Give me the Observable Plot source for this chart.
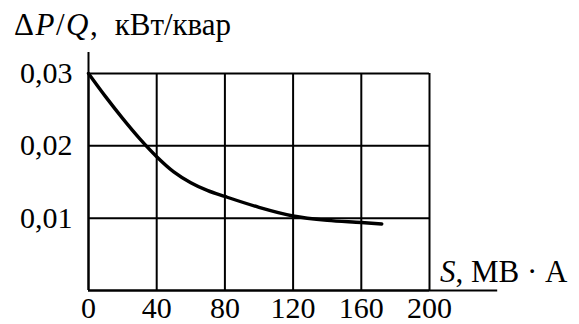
<!DOCTYPE html>
<html>
<head>
<meta charset="utf-8">
<script src="https://cdn.jsdelivr.net/npm/d3@7"></script>
<script src="https://cdn.jsdelivr.net/npm/@observablehq/plot@0.6"></script>
<style>
  html, body { margin: 0; padding: 0; background: #fff; }
  #wrap { position: relative; width: 579px; height: 324px; font-family: "Liberation Serif", "Times New Roman", serif; color: #000; }
  #title { position: absolute; left: 14px; top: 9px; font-size: 31px; white-space: nowrap; line-height: 1; }
  #title .sym { letter-spacing: 1.5px; }
  #xlabel { position: absolute; left: 440px; top: 256px; font-size: 31px; white-space: nowrap; line-height: 1; }
  #chart { position: absolute; left: 0; top: 0; }
</style>
</head>
<body>
<div id="wrap">
  <div id="chart"></div>
  <div id="title"><span class="sym">&Delta;<i>P</i>/<i>Q</i>,</span>&nbsp; кВт/квар</div>
  <div id="xlabel"><i>S</i>, МВ · А</div>
</div>
<script>
// Curve samples
const sValues = [0, 10, 20, 30, 40, 50, 60, 70, 80, 100, 120, 140, 160, 172];
const lossValues = [0.0300, 0.0268, 0.0238, 0.0210, 0.0185, 0.0164, 0.0149, 0.0138, 0.0130, 0.0115, 0.0103, 0.0097, 0.0094, 0.0092];
const xTicks = [0, 40, 80, 120, 160, 200];
const yTicks = [0.01, 0.02, 0.03];
const yGrid = [0, 0.01, 0.02, 0.03];
const xDomain = [0, 200];
const yDomain = [0, 0.03];
const yAxisTop = 0.0329;
const xAxisEnd = 240;

const data = sValues.map((s, i) => ({s, v: lossValues[i]}));

const chart = Plot.plot({
  width: 579,
  height: 324,
  marginLeft: 88,
  marginRight: 150,
  marginTop: 73,
  marginBottom: 34,
  style: {fontFamily: "'Liberation Serif', 'Times New Roman', serif", fontSize: "30px", background: "white", color: "black", overflow: "visible"},
  x: {domain: xDomain},
  y: {domain: yDomain},
  marks: [
    Plot.gridX(xTicks, {stroke: "black", strokeOpacity: 1, strokeWidth: 2}),
    Plot.gridY(yGrid, {stroke: "black", strokeOpacity: 1, strokeWidth: 2}),
    Plot.ruleX([0], {y1: 0, y2: yAxisTop, stroke: "black", strokeWidth: 2, clip: false}),
    Plot.ruleY([0], {x1: 0, x2: xAxisEnd, stroke: "black", strokeWidth: 2, clip: false}),
    Plot.line(data, {x: "s", y: "v", curve: "monotone-x", stroke: "black", strokeWidth: 3.4}),
    Plot.axisX(xTicks, {tickSize: 0, tickPadding: 6, tickFormat: d => String(d), label: null, fontSize: 30}),
    Plot.axisY(yTicks, {tickSize: 0, tickPadding: 16, tickFormat: d => d.toFixed(2).replace(".", ","), label: null, fontSize: 30})
  ]
});
document.getElementById("chart").appendChild(chart);
</script>
</body>
</html>
